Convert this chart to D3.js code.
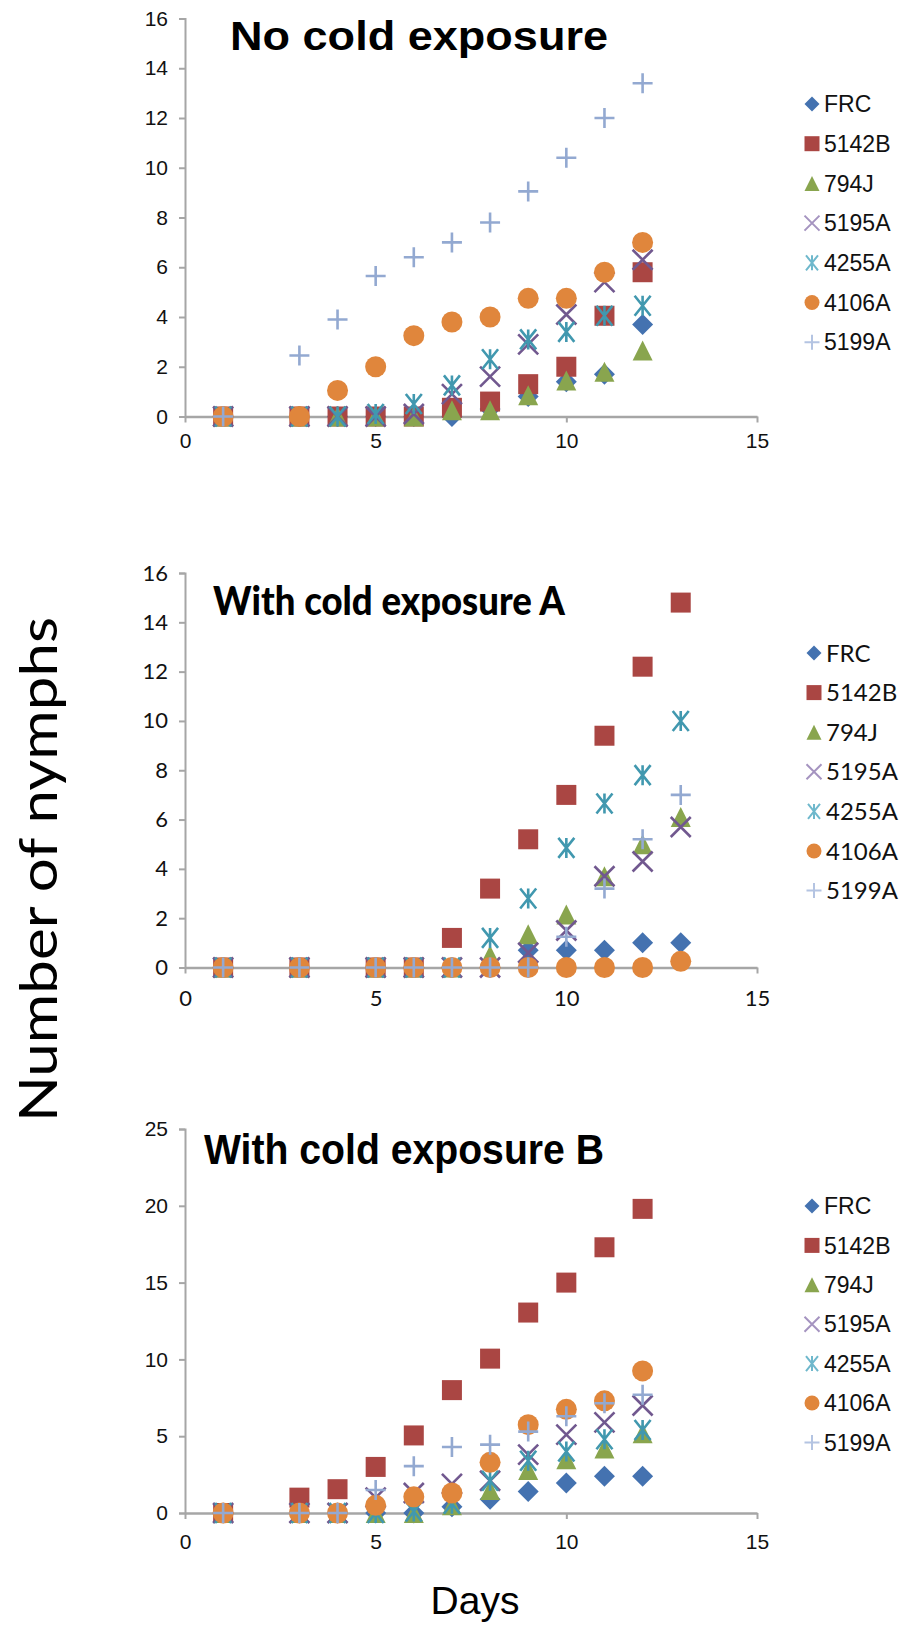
<!DOCTYPE html>
<html>
<head>
<meta charset="utf-8">
<script src="https://cdn.jsdelivr.net/npm/d3@7"></script>
<style>
html,body{margin:0;padding:0;background:#fff;}
svg{display:block;}
</style>
</head>
<body>
<svg id="chart" width="901" height="1626"></svg>
<script>
// ---------------- DATA ----------------
const seriesNames = ["FRC","5142B","794J","5195A","4255A","4106A","5199A"];

const days1 = [1,3,4,5,6,7,8,9,10,11,12];
const p1_FRC   = [0,0,0,0,0,0,0.3,0.8,1.4,1.7,3.7];
const p1_5142B = [0,0,0,0,0,0.35,0.6,1.3,2.0,4.05,5.8];
const p1_794J  = [0,0,0,0,0,0.25,0.25,0.85,1.45,1.8,2.65];
const p1_5195A = [0,0,0,0,0.1,0.9,1.6,2.9,4.1,5.4,6.3];
const p1_4255A = [0,0,0,0.1,0.5,1.25,2.3,3.1,3.4,4.05,4.45];
const p1_4106A = [0,0,1.05,2.0,3.25,3.8,4.0,4.75,4.75,5.8,7.0];
const p1_5199A = [0,2.45,3.9,5.65,6.4,7.0,7.8,9.05,10.4,12.0,13.4];

const days2 = [1,3,5,6,7,8,9,10,11,12,13];
const p2_FRC   = [0,0,0,0,0,0,0.7,0.7,0.7,1.0,1.0];
const p2_5142B = [0,0,0,0,1.2,3.2,5.2,7.0,9.4,12.2,14.8];
const p2_794J  = [0,0,0,0,0,0.5,1.35,2.15,3.7,5.0,6.1];
const p2_5195A = [0,0,0,0,0,0,0.6,1.5,3.7,4.3,5.7];
const p2_4255A = [0,0,0,0,0,1.2,2.8,4.85,6.65,7.8,10.0];
const p2_4106A = [0,0,0,0,0,0,0,0,0,0,0.25];
const p2_5199A = [0,0,0,0,0,0,0,1.25,3.2,5.2,7.0];

const days3 = [1,3,4,5,6,7,8,9,10,11,12];
const p3_FRC   = [0,0,0,0,0,0.4,0.9,1.4,1.95,2.4,2.4];
const p3_5142B = [0,1.0,1.55,3.0,5.05,8.0,10.05,13.05,15.0,17.3,19.8];
const p3_794J  = [0,0,0,0,0,0.5,1.5,2.8,3.5,4.2,5.2];
const p3_5195A = [0,0,0,1.0,1.3,1.9,2.1,3.8,5.1,5.9,7.0];
const p3_4255A = [0,0,0,0,0.1,0.6,2.1,3.4,4.0,4.8,5.4];
const p3_4106A = [0,0,0,0.5,1.05,1.3,3.3,5.75,6.75,7.3,9.25];
const p3_5199A = [0,0,0,1.5,3.05,4.3,4.45,5.3,6.3,7.15,7.7];

const titles = ["No cold exposure","With cold exposure A","With cold exposure B"];
const xTicks = [0,5,10,15];
const yTicks12 = [0,2,4,6,8,10,12,14,16];
const yTicks3 = [0,5,10,15,20,25];
const yLabel = "Number of nymphs";
const xLabel = "Days";

// ---------------- STYLE ----------------
const colors = ["#4472b0","#aa4643","#89a54e","#71588f","#4198af","#e0863c","#93a9d1"];
const legendColors = ["#4472b0","#aa4643","#89a54e","#a594c0","#6fb8cc","#e0863c","#b4c4e2"];
const shapes = ["diamond","square","triangle","x","star","circle","plus"];

const ARIAL = "'Liberation Sans', Arial, sans-serif";
const CALI = "Lato, 'Open Sans', sans-serif";

const panels = [
  {days: days1, data:[p1_FRC,p1_5142B,p1_794J,p1_5195A,p1_4255A,p1_4106A,p1_5199A],
   yMax:16, yTicks:yTicks12, yBottom:416.5, yTop:18.5, font:ARIAL, tickSize:21, xPad:11,
   title:{x:230, y:50, size:41, len:378, font:ARIAL, weight:"bold"},
   legend:{x:812, y:104, dy:39.7, font:ARIAL, size:23}},
  {days: days2, data:[p2_FRC,p2_5142B,p2_794J,p2_5195A,p2_4255A,p2_4106A,p2_5199A],
   yMax:16, yTicks:yTicks12, yBottom:967.5, yTop:573, font:CALI, tickSize:22, xPad:17,
   title:{x:213, y:615, size:40, len:352, font:CALI, weight:"900"},
   legend:{x:814, y:653, dy:39.6, font:CALI, size:24}},
  {days: days3, data:[p3_FRC,p3_5142B,p3_794J,p3_5195A,p3_4255A,p3_4106A,p3_5199A],
   yMax:25, yTicks:yTicks3, yBottom:1513, yTop:1129, font:ARIAL, tickSize:21, xPad:15,
   title:{x:204, y:1164, size:42, len:400, font:ARIAL, weight:"bold"},
   legend:{x:812, y:1206, dy:39.4, font:ARIAL, size:23}}
];

const svg = d3.select("#chart");
const AXIS = "#a6a6a6";

function markerPath(shape, s){
  const h = s/2;
  switch(shape){
    case "diamond": return `M0,${-h}L${h},0L0,${h}L${-h},0Z`;
    case "square": return `M${-h},${-h}H${h}V${h}H${-h}Z`;
    case "triangle": return `M0,${-h}L${h},${h}L${-h},${h}Z`;
    case "circle": return d3.symbol(d3.symbolCircle, Math.PI*h*h)();
    case "x": return `M${-h},${-h}L${h},${h}M${h},${-h}L${-h},${h}`;
    case "star": return `M${-h*0.8},${-h}L${h*0.8},${h}M${h*0.8},${-h}L${-h*0.8},${h}M0,${-h}V${h}`;
    case "plus": return `M${-h},0H${h}M0,${-h}V${h}`;
  }
}
function isLine(shape){ return shape==="x"||shape==="star"||shape==="plus"; }

const x = d3.scaleLinear().domain([0,15]).range([185,757]);

panels.forEach((p, pi) => {
  const y = d3.scaleLinear().domain([0,p.yMax]).range([p.yBottom,p.yTop]);
  const g = svg.append("g");

  // y axis
  const ya = g.append("g").attr("transform",`translate(${x(0)},0)`)
    .call(d3.axisLeft(y).tickValues(p.yTicks).tickSize(6).tickPadding(11).tickFormat(d3.format("d")));
  ya.select(".domain").attr("stroke",AXIS).attr("stroke-width",2);
  ya.selectAll(".tick line").attr("stroke",AXIS).attr("stroke-width",2);
  ya.selectAll(".tick text").attr("font-family",p.font).attr("font-size",p.tickSize).attr("fill","#111");

  // x axis
  const xa = g.append("g").attr("transform",`translate(0,${y(0)})`)
    .call(d3.axisBottom(x).tickValues(xTicks).tickSize(6).tickSizeOuter(0).tickPadding(p.xPad).tickFormat(d3.format("d")));
  xa.select(".domain").attr("stroke",AXIS).attr("stroke-width",2.5);
  xa.selectAll(".tick line").attr("stroke",AXIS).attr("stroke-width",2);
  xa.selectAll(".tick text").attr("font-family",p.font).attr("font-size",p.tickSize).attr("fill","#111");

  // title
  g.append("text").attr("x",p.title.x).attr("y",p.title.y)
    .attr("font-family",p.title.font).attr("font-weight",p.title.weight)
    .attr("font-size",p.title.size).attr("textLength",p.title.len)
    .attr("lengthAdjust","spacingAndGlyphs").attr("fill","#000").text(titles[pi]);

  // series
  p.data.forEach((vals, si) => {
    const shape = shapes[si];
    const pts = p.days.map((d,i)=>({d:d, v:vals[i]}));
    g.append("g").selectAll("path").data(pts).join("path")
      .attr("transform", q=>`translate(${x(q.d)},${y(q.v)})`)
      .attr("d", markerPath(shape, shape==="circle"?21:(shape==="diamond"?21:20)))
      .attr("fill", isLine(shape)?"none":colors[si])
      .attr("stroke", isLine(shape)?colors[si]:"none")
      .attr("stroke-width", isLine(shape)?2.6:0);
  });

  // legend
  const lg = g.append("g");
  seriesNames.forEach((name, si) => {
    const shape = shapes[si];
    const ly = p.legend.y + si*p.legend.dy;
    lg.append("path").attr("transform",`translate(${p.legend.x},${ly})`)
      .attr("d", markerPath(shape, 15))
      .attr("fill", isLine(shape)?"none":legendColors[si])
      .attr("stroke", isLine(shape)?legendColors[si]:"none")
      .attr("stroke-width", isLine(shape)?2:0);
    lg.append("text").attr("x",p.legend.x+12).attr("y",ly).attr("dy","0.36em")
      .attr("font-family",p.legend.font).attr("font-size",p.legend.size).attr("fill","#111")
      .text(name);
  });
});

// axis labels
svg.append("text").attr("transform","translate(57,1122) rotate(-90)")
  .attr("font-family",CALI).attr("font-size",52).attr("textLength",505)
  .attr("lengthAdjust","spacingAndGlyphs").attr("fill","#000").text(yLabel);
svg.append("text").attr("x",475).attr("y",1614).attr("text-anchor","middle")
  .attr("font-family",ARIAL).attr("font-size",39).attr("fill","#000").text(xLabel);
</script>
</body>
</html>
